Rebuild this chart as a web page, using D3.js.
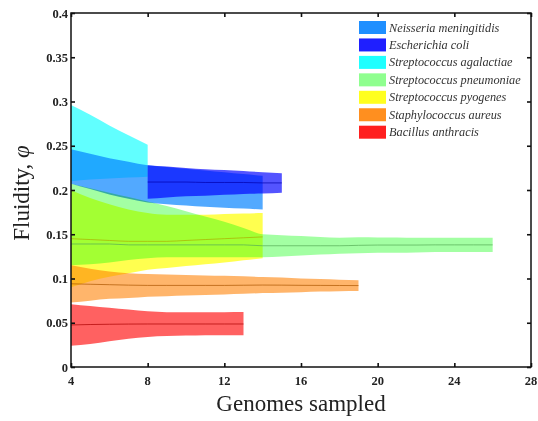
<!DOCTYPE html>
<html>
<head>
<meta charset="utf-8">
<script src="https://cdn.jsdelivr.net/npm/d3@7"></script>
<style>
  body { margin: 0; background: #fff; }
  #chart svg { display: block; }
</style>
</head>
<body>
<div id="chart"></div>
<script>
const species = ["Neisseria meningitidis", "Escherichia coli", "Streptococcus agalactiae",
  "Streptococcus pneumoniae", "Streptococcus pyogenes", "Staphylococcus aureus", "Bacillus anthracis"];

const xTicks = [4, 8, 12, 16, 20, 24, 28];
const yTicks = [0, 0.05, 0.1, 0.15, 0.2, 0.25, 0.3, 0.35, 0.4];
const yTickLabels = ["0", "0.05", "0.1", "0.15", "0.2", "0.25", "0.3", "0.35", "0.4"];

// Neisseria meningitidis
const neisN = [4, 5, 6, 7, 8, 9, 10, 11, 12, 13, 14];
const neisMean = [0.2265, 0.221, 0.2155, 0.211, 0.207, 0.205, 0.2033, 0.2015, 0.200, 0.1985, 0.197];
const neisHi = [0.246, 0.241, 0.236, 0.232, 0.228, 0.226, 0.224, 0.222, 0.220, 0.218, 0.216];
const neisLo = [0.207, 0.201, 0.195, 0.190, 0.186, 0.184, 0.1825, 0.181, 0.180, 0.179, 0.178];

// Escherichia coli
const ecoliN = [8, 9, 10, 11, 12, 13, 14, 15];
const ecoliMean = [0.209, 0.209, 0.209, 0.2085, 0.2085, 0.2085, 0.208, 0.208];
const ecoliHi = [0.228, 0.2265, 0.225, 0.2235, 0.2225, 0.2215, 0.220, 0.219];
const ecoliLo = [0.190, 0.1915, 0.193, 0.1935, 0.1945, 0.1955, 0.196, 0.197];

// Streptococcus agalactiae
const agalN = [4, 5, 6, 7, 8];
const agalMean = [0.253, 0.2485, 0.243, 0.238, 0.233];
const agalHi = [0.296, 0.285, 0.273, 0.262, 0.251];
const agalLo = [0.210, 0.212, 0.213, 0.214, 0.215];

// Streptococcus pneumoniae
const pneuN = [4, 5, 6, 7, 8, 9, 10, 11, 12, 13, 14, 15, 16, 17, 18, 19, 20, 21, 22, 23, 24, 25, 26];
const pneuMean = [0.139, 0.139, 0.139, 0.138, 0.138, 0.138, 0.138, 0.138, 0.138, 0.138, 0.137, 0.137,
  0.137, 0.137, 0.137, 0.1375, 0.1378, 0.1378, 0.1378, 0.138, 0.138, 0.138, 0.138];
const pneuHi = [0.207, 0.202, 0.197, 0.192, 0.187, 0.182, 0.176, 0.170, 0.164, 0.157, 0.150, 0.149,
  0.148, 0.147, 0.146, 0.1465, 0.1463, 0.1463, 0.146, 0.146, 0.146, 0.146, 0.146];
const pneuLo = [0.115, 0.116, 0.118, 0.121, 0.123, 0.124, 0.124, 0.124, 0.124, 0.124, 0.124, 0.125,
  0.126, 0.127, 0.128, 0.1285, 0.129, 0.129, 0.1295, 0.130, 0.130, 0.130, 0.130];

// Streptococcus pyogenes
const pyoN = [4, 5, 6, 7, 8, 9, 10, 11, 12, 13, 14];
const pyoMean = [0.145, 0.144, 0.143, 0.142, 0.142, 0.142, 0.143, 0.144, 0.145, 0.146, 0.147];
const pyoHi = [0.200, 0.191, 0.184, 0.178, 0.174, 0.172, 0.172, 0.172, 0.173, 0.1735, 0.174];
const pyoLo = [0.090, 0.097, 0.102, 0.106, 0.110, 0.112, 0.114, 0.116, 0.118, 0.1205, 0.123];

// Staphylococcus aureus
const aurN = [4, 5, 6, 7, 8, 9, 10, 11, 12, 13, 14, 15, 16, 17, 18, 19];
const aurMean = [0.094, 0.0935, 0.093, 0.0925, 0.0922, 0.0922, 0.0922, 0.0922, 0.0922, 0.0924, 0.0926,
  0.0925, 0.0923, 0.0922, 0.0921, 0.092];
const aurHi = [0.115, 0.111, 0.108, 0.106, 0.105, 0.1045, 0.104, 0.1035, 0.103, 0.1025, 0.1017,
  0.101, 0.100, 0.0993, 0.0986, 0.098];
const aurLo = [0.073, 0.075, 0.077, 0.078, 0.0795, 0.080, 0.0807, 0.0813, 0.082, 0.0827, 0.0835,
  0.084, 0.0846, 0.0852, 0.0857, 0.086];

// Bacillus anthracis
const anthN = [4, 5, 6, 7, 8, 9, 10, 11, 12, 13];
const anthMean = [0.0475, 0.048, 0.0483, 0.0485, 0.0486, 0.0486, 0.0486, 0.0486, 0.0486, 0.0486];
const anthHi = [0.071, 0.069, 0.067, 0.065, 0.063, 0.062, 0.0618, 0.0618, 0.062, 0.0622];
const anthLo = [0.024, 0.026, 0.029, 0.032, 0.034, 0.035, 0.0355, 0.036, 0.036, 0.036];

const colors = ["#0080ff", "#0000ff", "#00ffff", "#80ff80", "#ffff00", "#ff8000", "#ff0000"];
const alphas = [0.68, 0.67, 0.62, 0.72, 0.69, 0.58, 0.62];
// the mean line blends into the band for the two lightest blues, so it is not drawn there
const meanShown = [false, true, false, true, true, true, true];

const series = [
  [neisN, neisMean, neisLo, neisHi],
  [ecoliN, ecoliMean, ecoliLo, ecoliHi],
  [agalN, agalMean, agalLo, agalHi],
  [pneuN, pneuMean, pneuLo, pneuHi],
  [pyoN, pyoMean, pyoLo, pyoHi],
  [aurN, aurMean, aurLo, aurHi],
  [anthN, anthMean, anthLo, anthHi]
].map((s, i) => ({
  name: species[i],
  color: colors[i],
  alpha: alphas[i],
  showMean: meanShown[i],
  points: s[0].map((n, j) => ({ n: n, mean: s[1][j], lo: s[2][j], hi: s[3][j] }))
}));

const width = 538;
const height = 421;
const margin = { top: 13, right: 7, bottom: 54, left: 71 };
const innerWidth = width - margin.left - margin.right;
const innerHeight = height - margin.top - margin.bottom;

const svg = d3.select("#chart")
  .append("svg")
  .attr("width", width)
  .attr("height", height)
  .append("g")
  .attr("transform", `translate(${margin.left}, ${margin.top})`);

const xScale = d3.scaleLinear().domain([4, 28]).range([0, innerWidth]);
const yScale = d3.scaleLinear().domain([0, 0.4]).range([innerHeight, 0]);

const area = d3.area()
  .x(d => xScale(d.n))
  .y0(d => yScale(d.lo))
  .y1(d => yScale(d.hi))
  .curve(d3.curveMonotoneX);

const line = d3.line()
  .x(d => xScale(d.n))
  .y(d => yScale(d.mean))
  .curve(d3.curveMonotoneX);

svg.selectAll(".band")
  .data(series)
  .enter()
  .append("path")
  .attr("class", "band")
  .attr("d", d => area(d.points))
  .attr("fill", d => d.color)
  .attr("fill-opacity", d => d.alpha)
  .style("mix-blend-mode", "multiply");

svg.selectAll(".mean")
  .data(series.filter(d => d.showMean))
  .enter()
  .append("path")
  .attr("class", "mean")
  .attr("d", d => line(d.points))
  .attr("fill", "none")
  .attr("stroke", d => d3.color(d.color).darker(1.1))
  .attr("stroke-opacity", 0.7)
  .attr("stroke-width", 1);

// axes, MATLAB style: ticks pointing inwards on all four sides, labels drawn separately
const noText = g => {
  g.select(".domain").remove();
  g.selectAll("text").remove();
};

svg.append("g")
  .attr("transform", `translate(0, ${innerHeight})`)
  .call(d3.axisBottom(xScale).tickValues(xTicks).tickSizeInner(-4).tickSizeOuter(0))
  .call(noText);

svg.append("g")
  .call(d3.axisLeft(yScale).tickValues(yTicks).tickSizeInner(-4).tickSizeOuter(0))
  .call(noText);

svg.append("g")
  .call(d3.axisTop(xScale).tickValues(xTicks).tickSizeInner(-4).tickSizeOuter(0))
  .call(noText);

svg.append("g")
  .attr("transform", `translate(${innerWidth}, 0)`)
  .call(d3.axisRight(yScale).tickValues(yTicks).tickSizeInner(-4).tickSizeOuter(0))
  .call(noText);

svg.selectAll(".tick line").attr("stroke", "#111").attr("stroke-width", 1.6);

svg.append("rect")
  .attr("width", innerWidth)
  .attr("height", innerHeight)
  .attr("fill", "none")
  .attr("stroke", "#111")
  .attr("stroke-width", 1.5);

svg.selectAll(".x-label")
  .data(xTicks)
  .enter()
  .append("text")
  .attr("class", "x-label")
  .attr("x", d => xScale(d))
  .attr("y", innerHeight + 18)
  .attr("text-anchor", "middle")
  .attr("font-family", "Liberation Serif, serif")
  .attr("font-weight", "bold")
  .attr("font-size", 12.5)
  .attr("fill", "#222")
  .text(d => d);

svg.selectAll(".y-label")
  .data(yTicks)
  .enter()
  .append("text")
  .attr("class", "y-label")
  .attr("x", -3)
  .attr("y", d => yScale(d) + 4.5)
  .attr("text-anchor", "end")
  .attr("font-family", "Liberation Serif, serif")
  .attr("font-weight", "bold")
  .attr("font-size", 12.5)
  .attr("fill", "#222")
  .text((d, i) => yTickLabels[i]);

svg.append("text")
  .attr("x", innerWidth / 2)
  .attr("y", 398)
  .attr("text-anchor", "middle")
  .attr("font-family", "Liberation Serif, serif")
  .attr("font-size", 23)
  .attr("fill", "#222")
  .text("Genomes sampled");

const yLabel = svg.append("text")
  .attr("transform", `translate(-42, ${innerHeight / 2 + 3}) rotate(-90)`)
  .attr("text-anchor", "middle")
  .attr("font-family", "Liberation Serif, serif")
  .attr("font-size", 23)
  .attr("fill", "#222");
yLabel.append("tspan").text("Fluidity, ");
yLabel.append("tspan").attr("font-style", "italic").text("φ");

// legend
const legend = svg.append("g")
  .attr("transform", "translate(288, 8)");

const item = legend.selectAll(".legend-item")
  .data(series)
  .enter()
  .append("g")
  .attr("class", "legend-item")
  .attr("transform", (d, i) => `translate(0, ${i * 17.45})`);

item.append("rect")
  .attr("width", 27)
  .attr("height", 13)
  .attr("fill", d => d.color)
  .attr("fill-opacity", 0.88);

item.append("text")
  .attr("x", 30)
  .attr("y", 10.5)
  .attr("font-family", "Liberation Serif, serif")
  .attr("font-style", "italic")
  .attr("font-size", 12.3)
  .attr("fill", "#333")
  .text(d => d.name);
</script>
</body>
</html>
